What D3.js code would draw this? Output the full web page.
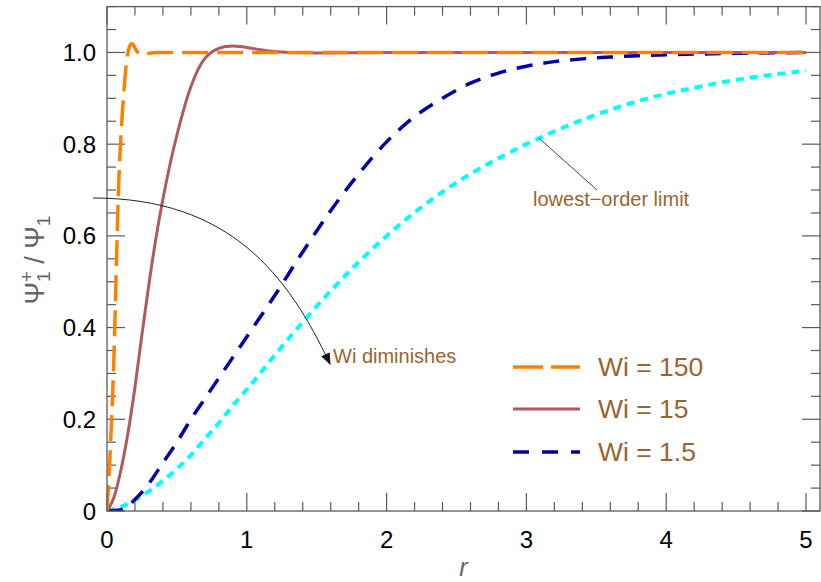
<!DOCTYPE html>
<html><head><meta charset="utf-8">
<script src="https://cdn.jsdelivr.net/npm/d3@7"></script>
<style>body{margin:0;background:#fff}svg{display:block}</style>
</head><body>
<svg id="c" width="821" height="582"></svg>
<script>
// ---- data ----
const rWi150 = [0,0.01,0.02,0.03,0.04,0.05,0.06,0.07,0.08,0.09,0.10,0.11,0.12,0.13,0.14,0.15,0.16,0.17,0.18,0.19,0.20,0.21,0.22,0.24,0.27,0.30,0.35,0.5,1,2,3,4,5];
const vWi150 = [0,0.05,0.11,0.18,0.25,0.34,0.45,0.57,0.68,0.76,0.82,0.87,0.91,0.95,0.98,1.0,1.012,1.018,1.019,1.016,1.01,1.004,1.0,0.996,0.996,0.998,1.0,1.0,1.0,1.0,1.0,1.0,1.0];
const rWi15 = [0,0.05,0.1,0.15,0.2,0.25,0.3,0.35,0.4,0.45,0.5,0.55,0.6,0.65,0.7,0.75,0.8,0.85,0.9,0.95,1.0,1.1,1.2,1.3,1.5,2,3,4,5];
const vWi15 = [0,0.03,0.09,0.17,0.27,0.385,0.495,0.595,0.68,0.755,0.82,0.877,0.925,0.962,0.987,1.001,1.009,1.013,1.014,1.013,1.011,1.006,1.002,1.0,0.999,1.0,1.0,1.0,1.0];
const rWi1_5 = [0,0.1,0.2,0.3,0.4,0.5,0.6,0.7,0.8,0.9,1.0,1.2,1.4,1.6,1.8,2.0,2.2,2.4,2.6,2.8,3.0,3.2,3.4,3.6,3.8,4.0,4.5,5.0];
const vWi1_5 = [0,0.003,0.025,0.06,0.105,0.15,0.20,0.245,0.29,0.335,0.38,0.47,0.565,0.655,0.735,0.805,0.86,0.90,0.933,0.955,0.97,0.98,0.986,0.99,0.993,0.995,0.998,1.0];
const rLow = [0,0.1,0.2,0.3,0.4,0.5,0.6,0.7,0.8,0.9,1.0,1.2,1.4,1.6,1.8,2.0,2.2,2.4,2.6,2.8,3.0,3.2,3.4,3.6,3.8,4.0,4.2,4.4,4.6,4.8,5.0];
const vLow = [0,0.009,0.024,0.043,0.066,0.092,0.122,0.157,0.192,0.23,0.265,0.34,0.412,0.48,0.543,0.60,0.651,0.696,0.735,0.769,0.80,0.828,0.853,0.875,0.894,0.91,0.923,0.935,0.945,0.953,0.96];
const xTicks = [0,1,2,3,4,5];
const yTicks = [0,0.2,0.4,0.6,0.8,1.0];
const yTickLabels = ["0","0.2","0.4","0.6","0.8","1.0"];
const legendLabels = ["Wi = 150","Wi = 15","Wi = 1.5"];

// ---- layout ----
const L=107, R=820, T=6.6, B=511;
const svg=d3.select("#c");
const x=d3.scaleLinear().domain([0,5.1]).range([L,R]);
const y=d3.scaleLinear().domain([0,1.1]).range([B,T]);

svg.append("defs").append("clipPath").attr("id","clip")
  .append("rect").attr("x",L).attr("y",T).attr("width",R-L).attr("height",B-T);

const frameColor="#5a5a5a";
const xMinor=d3.range(0,5.1001,0.2).map(v=>+v.toFixed(2));
const yMinor=d3.range(0,1.1001,0.05).map(v=>+v.toFixed(2));
const isMajorX=v=>Math.abs(v-Math.round(v))<1e-6;
const isMajorY=v=>Math.abs(v*5-Math.round(v*5))<1e-6;
const tg=svg.append("g").attr("stroke",frameColor).attr("stroke-width",1.2);
xMinor.forEach(v=>{
  const len=isMajorX(v)?18:9;
  tg.append("line").attr("x1",x(v)).attr("x2",x(v)).attr("y1",B).attr("y2",B-len);
  tg.append("line").attr("x1",x(v)).attr("x2",x(v)).attr("y1",T).attr("y2",T+len);
});
yMinor.forEach(v=>{
  const len=isMajorY(v)?18:9;
  tg.append("line").attr("y1",y(v)).attr("y2",y(v)).attr("x1",L).attr("x2",L+len);
  tg.append("line").attr("y1",y(v)).attr("y2",y(v)).attr("x1",R).attr("x2",R-len);
});

// curves
const line=d3.line().x(d=>x(d[0])).y(d=>y(d[1])).curve(d3.curveMonotoneX);
const zip=(a,b)=>a.map((v,i)=>[v,b[i]]);
const pg=svg.append("g").attr("clip-path","url(#clip)").attr("fill","none");
pg.append("path").attr("d",line(zip(rLow,vLow))).attr("stroke","#00ffff").attr("stroke-width",4).attr("stroke-dasharray","8,6");
pg.append("path").attr("d",line(zip(rWi1_5,vWi1_5))).attr("stroke","#0000a8").attr("stroke-width",3.5).attr("stroke-dasharray","16,11");
pg.append("path").attr("d",line(zip(rWi15,vWi15))).attr("stroke","#b05a5a").attr("stroke-width",3);
pg.append("path").attr("d",line(zip(rWi150,vWi150))).attr("stroke","#ff8000").attr("stroke-width",3.5).attr("stroke-dasharray","26,9");

// frame
svg.append("rect").attr("x",L).attr("y",T).attr("width",R-L).attr("height",B-T)
  .attr("fill","none").attr("stroke",frameColor).attr("stroke-width",1.3);

// tick labels
const font="Liberation Sans, Arial, sans-serif";
svg.append("g").selectAll("text").data(xTicks).join("text")
  .attr("x",d=>x(d)).attr("y",548).attr("text-anchor","middle")
  .attr("font-family",font).attr("font-size",24).attr("fill","#000").text(d=>d);
svg.append("g").selectAll("text").data(yTicks).join("text")
  .attr("x",96).attr("y",d=>y(d)+8.5).attr("text-anchor","end")
  .attr("font-family",font).attr("font-size",24).attr("fill","#000").text((d,i)=>yTickLabels[i]);

// axis titles
svg.append("text").attr("x",(L+R)/2).attr("y",576).attr("text-anchor","middle")
  .attr("font-family",font).attr("font-size",25).attr("font-style","italic").attr("fill","#666").text("r");
const yl=svg.append("text").attr("transform","translate(44,260) rotate(-90)").attr("text-anchor","middle")
  .attr("font-family",font).attr("font-size",27).attr("fill","#666");
yl.append("tspan").text("Ψ");
yl.append("tspan").attr("dy",6).attr("font-size",19).text("1");
yl.append("tspan").attr("dx",-11).attr("dy",-17).attr("font-size",19).text("+");
yl.append("tspan").attr("dy",11).text(" / Ψ");
yl.append("tspan").attr("dy",6).attr("font-size",19).text("1");

// legend
const legColor="#9a6430";
const lg=svg.append("g");
const legStyles=[
  {c:"#ff8000",w:3.5,d:"30,8"},
  {c:"#b05a5a",w:3,d:null},
  {c:"#0000a8",w:3.5,d:"16,13"}
];
const legY=[367,409,452];
legendLabels.forEach((t,i)=>{
  const s=legStyles[i];
  const ln=lg.append("line").attr("x1",513).attr("x2",580).attr("y1",legY[i]).attr("y2",legY[i])
    .attr("stroke",s.c).attr("stroke-width",s.w);
  if(s.d) ln.attr("stroke-dasharray",s.d);
  lg.append("text").attr("x",598).attr("y",legY[i]+9).attr("font-family",font).attr("font-size",26.5)
    .attr("fill",legColor).text(t);
});

// annotations
const defs=svg.select("defs");
defs.append("marker").attr("id","ah").attr("viewBox","0 0 10 10").attr("refX",9).attr("refY",5)
  .attr("markerWidth",12).attr("markerHeight",12).attr("markerUnits","userSpaceOnUse").attr("orient","auto")
  .append("path").attr("d","M0,1 L10,5 L0,9 Z").attr("fill","#111");
svg.append("path").attr("d","M93,198 C230,198 288,275 330,364").attr("fill","none")
  .attr("stroke","#222").attr("stroke-width",1).attr("marker-end","url(#ah)");
svg.append("text").attr("x",333).attr("y",363).attr("font-family",font).attr("font-size",20)
  .attr("fill",legColor).text("Wi diminishes");
svg.append("line").attr("x1",x(3.09)).attr("y1",y(0.813)).attr("x2",597).attr("y2",190)
  .attr("stroke","#444").attr("stroke-width",1);
svg.append("text").attr("x",533).attr("y",206).attr("font-family",font).attr("font-size",20)
  .attr("fill",legColor).text("lowest−order limit");
</script>
</body></html>
